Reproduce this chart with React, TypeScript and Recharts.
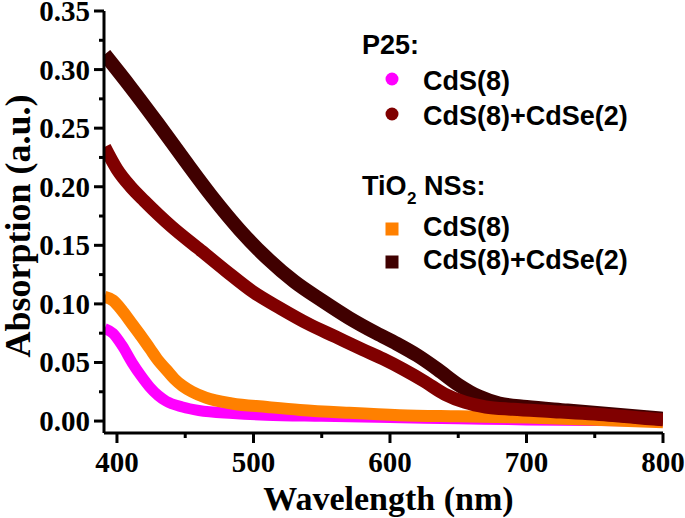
import React from "react";
import { LineChart, Line, XAxis, YAxis } from "recharts";

// ── data ──
const p25CdSWl = [391, 397, 404, 411, 418, 424, 430, 436, 448, 460, 485, 509, 550, 600, 650, 700, 750, 800];
const p25CdSAbs = [0.079, 0.075, 0.064, 0.05, 0.038, 0.029, 0.022, 0.017, 0.012, 0.009, 0.0065, 0.005, 0.004, 0.003, 0.002, 0.001, 0.0005, 0];

const p25CdSeWl = [391, 400, 410, 420, 440, 460, 480, 500, 520, 540, 560, 580, 595, 610, 625, 640, 655, 670, 690, 720, 760, 800];
const p25CdSeAbs = [0.234, 0.215, 0.2, 0.188, 0.166, 0.147, 0.128, 0.11, 0.096, 0.083, 0.072, 0.061, 0.053, 0.044, 0.034, 0.023, 0.016, 0.012, 0.01, 0.008, 0.005, 0.001];

const nsCdSWl = [391, 397, 404, 411, 418, 424, 430, 436, 442, 448, 455, 465, 484, 510, 534, 570, 607, 650, 700, 750, 800];
const nsCdSAbs = [0.106, 0.103, 0.094, 0.083, 0.072, 0.062, 0.052, 0.044, 0.036, 0.03, 0.025, 0.02, 0.015, 0.012, 0.0095, 0.007, 0.005, 0.004, 0.003, 0.001, -0.001];

const nsCdSeWl = [391, 410, 430, 450, 470, 490, 510, 530, 550, 570, 590, 605, 620, 635, 650, 665, 680, 700, 730, 760, 800];
const nsCdSeAbs = [0.313, 0.285, 0.254, 0.222, 0.191, 0.163, 0.139, 0.119, 0.103, 0.088, 0.075, 0.066, 0.056, 0.044, 0.031, 0.021, 0.015, 0.012, 0.009, 0.006, 0.002];

const xTicks = [400, 450, 500, 550, 600, 650, 700, 750, 800];
const xMajorTicks = [400, 500, 600, 700, 800];
const yTicks = [0, 0.025, 0.05, 0.075, 0.1, 0.125, 0.15, 0.175, 0.2, 0.225, 0.25, 0.275, 0.3, 0.325, 0.35];
const yMajorTicks = [0, 0.05, 0.1, 0.15, 0.2, 0.25, 0.3, 0.35];

const xDomain = [390.5, 800];
const yDomain = [-0.0102, 0.35];

const SERIF = "'Liberation Serif', 'Times New Roman', serif";
const SANS = "'Liberation Sans', Arial, sans-serif";

const toPoints = (wl: number[], abs: number[]) => wl.map((w, i) => ({ wl: w, abs: abs[i] }));

const tickStroke = { stroke: "#000", strokeWidth: 3 };
const frame = { stroke: "#000", strokeWidth: 3 };

// built-in tick line gives the short (minor) length; majors get an extra bit + label
function XTick({ x, y, payload }: any) {
  if (!xMajorTicks.includes(payload.value)) return <g />;
  return (
    <g>
      <line x1={x} x2={x} y1={y} y2={y + 5} stroke="#000" strokeWidth={3} />
      <text x={x} y={y + 34} textAnchor="middle" fontFamily={SERIF} fontWeight="bold" fontSize={29} fill="#000">
        {payload.value}
      </text>
    </g>
  );
}

function YTick({ x, y, payload }: any) {
  const major = yMajorTicks.some((t) => Math.abs(t - payload.value) < 1e-9);
  if (!major) return <g />;
  return (
    <g>
      <line x1={x - 5} x2={x} y1={y} y2={y} stroke="#000" strokeWidth={3} />
      <text x={x - 9} y={y + 10} textAnchor="end" fontFamily={SERIF} fontWeight="bold" fontSize={29} fill="#000">
        {payload.value.toFixed(2)}
      </text>
    </g>
  );
}

function LegendOverlay() {
  const txt = { fontFamily: SANS, fontWeight: "bold" as const, fontSize: 27, fill: "#000" };
  return (
    <svg width={685} height={518} style={{ position: "absolute", left: 0, top: 0, pointerEvents: "none" }}>
      <text x={362} y={54} {...txt}>P25:</text>
      <circle cx={392} cy={79} r={6.5} fill="#FF00FF" />
      <text x={423} y={90} {...txt}>CdS(8)</text>
      <circle cx={392} cy={114} r={6.5} fill="#800000" />
      <text x={423} y={125} {...txt}>CdS(8)+CdSe(2)</text>
      <text x={362} y={195} {...txt}>TiO</text>
      <text x={407} y={204} {...txt} fontSize={17}>2</text>
      <text x={424} y={195} {...txt}>NSs:</text>
      <rect x={385.5} y={222.5} width={13} height={13} fill="#FF8000" />
      <text x={423} y={236} {...txt}>CdS(8)</text>
      <rect x={385.5} y={255.5} width={13} height={13} fill="#400000" />
      <text x={423} y={269} {...txt}>CdS(8)+CdSe(2)</text>
    </svg>
  );
}

export default function App() {
  return (
    <div style={{ position: "absolute", left: 0, top: 0, width: 685, height: 518, background: "#fff" }}>
      <LineChart width={685} height={518} margin={{ top: 11, right: 22, left: 0, bottom: 0 }}>
        <XAxis
          xAxisId="b"
          dataKey="wl"
          type="number"
          domain={xDomain}
          allowDataOverflow
          ticks={xTicks}
          interval={0}
          height={85}
          tickSize={5}
          tickMargin={0}
          tickLine={tickStroke}
          axisLine={frame}
          tick={<XTick />}
          label={({ viewBox }: any) => (
            <text
              x={viewBox.x + viewBox.width / 2 + 5}
              y={viewBox.y + 77}
              textAnchor="middle"
              fontFamily={SERIF}
              fontWeight="bold"
              fontSize={34}
              fill="#000"
            >
              Wavelength (nm)
            </text>
          )}
        />
        <XAxis
          xAxisId="t"
          orientation="top"
          type="number"
          domain={xDomain}
          height={0}
          tick={false}
          tickLine={false}
          axisLine={frame}
        />
        <YAxis
          yAxisId="l"
          type="number"
          domain={yDomain}
          allowDataOverflow
          ticks={yTicks}
          interval={0}
          width={104}
          tickSize={5}
          tickMargin={0}
          tickLine={tickStroke}
          axisLine={frame}
          tick={<YTick />}
          label={({ viewBox }: any) => {
            const cx = 30;
            const cy = viewBox.y + viewBox.height / 2 + 4;
            return (
              <text
                x={cx}
                y={cy}
                transform={`rotate(-90, ${cx}, ${cy})`}
                textAnchor="middle"
                fontFamily={SERIF}
                fontWeight="bold"
                fontSize={36}
                fill="#000"
              >
                Absorption (a.u.)
              </text>
            );
          }}
        />
        <YAxis
          yAxisId="r"
          orientation="right"
          type="number"
          domain={yDomain}
          width={0}
          tick={false}
          tickLine={false}
          axisLine={frame}
        />
        <Line xAxisId="b" yAxisId="l" data={toPoints(p25CdSWl, p25CdSAbs)} dataKey="abs" type="monotone"
          stroke="#FF00FF" strokeWidth={11} dot={false} isAnimationActive={false} />
        <Line xAxisId="b" yAxisId="l" data={toPoints(nsCdSWl, nsCdSAbs)} dataKey="abs" type="monotone"
          stroke="#FF8000" strokeWidth={12} dot={false} isAnimationActive={false} />
        <Line xAxisId="b" yAxisId="l" data={toPoints(nsCdSeWl, nsCdSeAbs)} dataKey="abs" type="monotone"
          stroke="#400000" strokeWidth={14} dot={false} isAnimationActive={false} />
        <Line xAxisId="b" yAxisId="l" data={toPoints(p25CdSeWl, p25CdSeAbs)} dataKey="abs" type="monotone"
          stroke="#800000" strokeWidth={13} dot={false} isAnimationActive={false} />
      </LineChart>
      <LegendOverlay />
    </div>
  );
}
